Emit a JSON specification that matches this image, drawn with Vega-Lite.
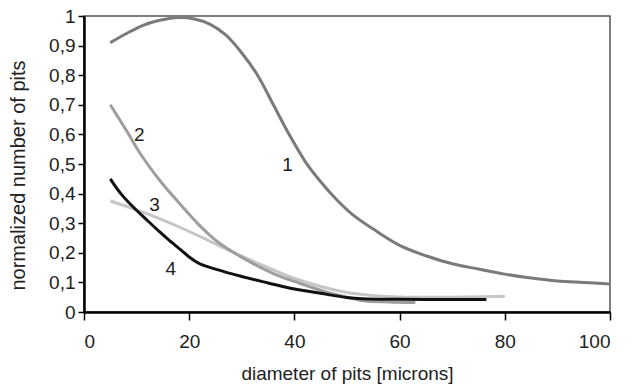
{
  "$schema": "https://vega.github.io/schema/vega-lite/v6.json",
  "width": 526,
  "height": 296,
  "autosize": "none",
  "padding": {"left": 84, "top": 16, "right": 22, "bottom": 77},
  "background": "white",
  "config": {
    "font": "Liberation Sans",
    "view": {"stroke": "#555", "strokeWidth": 1.5},
    "axis": {
      "grid": false,
      "domainColor": "#000",
      "domainWidth": 2.5,
      "tickColor": "#000",
      "tickWidth": 1.5,
      "labelFont": "Liberation Sans",
      "labelFontSize": 19,
      "labelColor": "#222",
      "labelOverlap": false,
      "titleFont": "Liberation Sans",
      "titleFontWeight": "normal",
      "titleColor": "#222"
    }
  },
  "datasets": {
    "curves": [
      {"curve": "1", "d": 5, "n": 0.91},
      {"curve": "1", "d": 8, "n": 0.94},
      {"curve": "1", "d": 11, "n": 0.967},
      {"curve": "1", "d": 14, "n": 0.984},
      {"curve": "1", "d": 18, "n": 0.995},
      {"curve": "1", "d": 21, "n": 0.99},
      {"curve": "1", "d": 24, "n": 0.972},
      {"curve": "1", "d": 27, "n": 0.935},
      {"curve": "1", "d": 30, "n": 0.875},
      {"curve": "1", "d": 33, "n": 0.80},
      {"curve": "1", "d": 36, "n": 0.70},
      {"curve": "1", "d": 39, "n": 0.60},
      {"curve": "1", "d": 42, "n": 0.51},
      {"curve": "1", "d": 45, "n": 0.44},
      {"curve": "1", "d": 48, "n": 0.38},
      {"curve": "1", "d": 51, "n": 0.33},
      {"curve": "1", "d": 55, "n": 0.28},
      {"curve": "1", "d": 60, "n": 0.225},
      {"curve": "1", "d": 65, "n": 0.19},
      {"curve": "1", "d": 70, "n": 0.163},
      {"curve": "1", "d": 75, "n": 0.145},
      {"curve": "1", "d": 80, "n": 0.128},
      {"curve": "1", "d": 85, "n": 0.115},
      {"curve": "1", "d": 90, "n": 0.105},
      {"curve": "1", "d": 95, "n": 0.1},
      {"curve": "1", "d": 100, "n": 0.095},
      {"curve": "3", "d": 5, "n": 0.375},
      {"curve": "3", "d": 10, "n": 0.345},
      {"curve": "3", "d": 14, "n": 0.318},
      {"curve": "3", "d": 18, "n": 0.288},
      {"curve": "3", "d": 23.5, "n": 0.243},
      {"curve": "3", "d": 28, "n": 0.205},
      {"curve": "3", "d": 33, "n": 0.165},
      {"curve": "3", "d": 39, "n": 0.12},
      {"curve": "3", "d": 45, "n": 0.086},
      {"curve": "3", "d": 50, "n": 0.066},
      {"curve": "3", "d": 55, "n": 0.056},
      {"curve": "3", "d": 60, "n": 0.051},
      {"curve": "3", "d": 70, "n": 0.05},
      {"curve": "3", "d": 80, "n": 0.053},
      {"curve": "2", "d": 5, "n": 0.7},
      {"curve": "2", "d": 8, "n": 0.615},
      {"curve": "2", "d": 11, "n": 0.527},
      {"curve": "2", "d": 14.6, "n": 0.44},
      {"curve": "2", "d": 18, "n": 0.37},
      {"curve": "2", "d": 20, "n": 0.33},
      {"curve": "2", "d": 22, "n": 0.292},
      {"curve": "2", "d": 25, "n": 0.243},
      {"curve": "2", "d": 28, "n": 0.206},
      {"curve": "2", "d": 32, "n": 0.165},
      {"curve": "2", "d": 36, "n": 0.13},
      {"curve": "2", "d": 41, "n": 0.097},
      {"curve": "2", "d": 46, "n": 0.068},
      {"curve": "2", "d": 50, "n": 0.05},
      {"curve": "2", "d": 53, "n": 0.038},
      {"curve": "2", "d": 58, "n": 0.034},
      {"curve": "2", "d": 63, "n": 0.032},
      {"curve": "4", "d": 5, "n": 0.45},
      {"curve": "4", "d": 7, "n": 0.4},
      {"curve": "4", "d": 9.5, "n": 0.352},
      {"curve": "4", "d": 12, "n": 0.31},
      {"curve": "4", "d": 14, "n": 0.277},
      {"curve": "4", "d": 16, "n": 0.245},
      {"curve": "4", "d": 18.4, "n": 0.21},
      {"curve": "4", "d": 20, "n": 0.186},
      {"curve": "4", "d": 22, "n": 0.163},
      {"curve": "4", "d": 25, "n": 0.145},
      {"curve": "4", "d": 30, "n": 0.12},
      {"curve": "4", "d": 35, "n": 0.098},
      {"curve": "4", "d": 39, "n": 0.081},
      {"curve": "4", "d": 45, "n": 0.063},
      {"curve": "4", "d": 50, "n": 0.049},
      {"curve": "4", "d": 53, "n": 0.045},
      {"curve": "4", "d": 60, "n": 0.043},
      {"curve": "4", "d": 70, "n": 0.042},
      {"curve": "4", "d": 76.5, "n": 0.042}
    ],
    "labels": [
      {"label": "1", "d": 38.7, "n": 0.497},
      {"label": "2", "d": 10.5, "n": 0.598},
      {"label": "3", "d": 13.4, "n": 0.361},
      {"label": "4", "d": 16.5, "n": 0.144}
    ]
  },
  "encoding": {
    "x": {
      "field": "d", "type": "quantitative",
      "scale": {"domain": [0, 100], "nice": false},
      "axis": {
        "values": [0, 20, 40, 60, 80, 100],
        "tickCount": 6,
        "title": "diameter of pits [microns]",
        "titleFontSize": 19,
        "titleY": 52,
        "tickSize": 8,
        "labelPadding": 12
      }
    },
    "y": {
      "field": "n", "type": "quantitative",
      "scale": {"domain": [0, 1], "nice": false},
      "axis": {
        "values": [0, 0.1, 0.2, 0.3, 0.4, 0.5, 0.6, 0.7, 0.8, 0.9, 1],
        "tickCount": 12,
        "labelExpr": "replace(format(datum.value, '.1~f'), '.', ',')",
        "title": "normalized number of pits",
        "titleFontSize": 20,
        "titleX": -56,
        "titleY": 159,
        "tickSize": 6,
        "labelPadding": 3
      }
    }
  },
  "layer": [
    {
      "data": {"name": "curves"},
      "mark": {"type": "line", "interpolate": "catmull-rom", "strokeWidth": 3, "strokeCap": "butt"},
      "encoding": {
        "color": {
          "field": "curve", "type": "nominal",
          "scale": {"domain": ["1", "3", "2", "4"], "range": ["#7a7a7a", "#c6c6c6", "#9e9e9e", "#111111"]},
          "legend": null
        },
        "order": {"field": "d", "type": "quantitative"}
      }
    },
    {
      "data": {"name": "labels"},
      "mark": {"type": "text", "fontSize": 19, "font": "Liberation Sans", "color": "#222", "baseline": "middle", "align": "center"},
      "encoding": {
        "text": {"field": "label"}
      }
    }
  ]
}
